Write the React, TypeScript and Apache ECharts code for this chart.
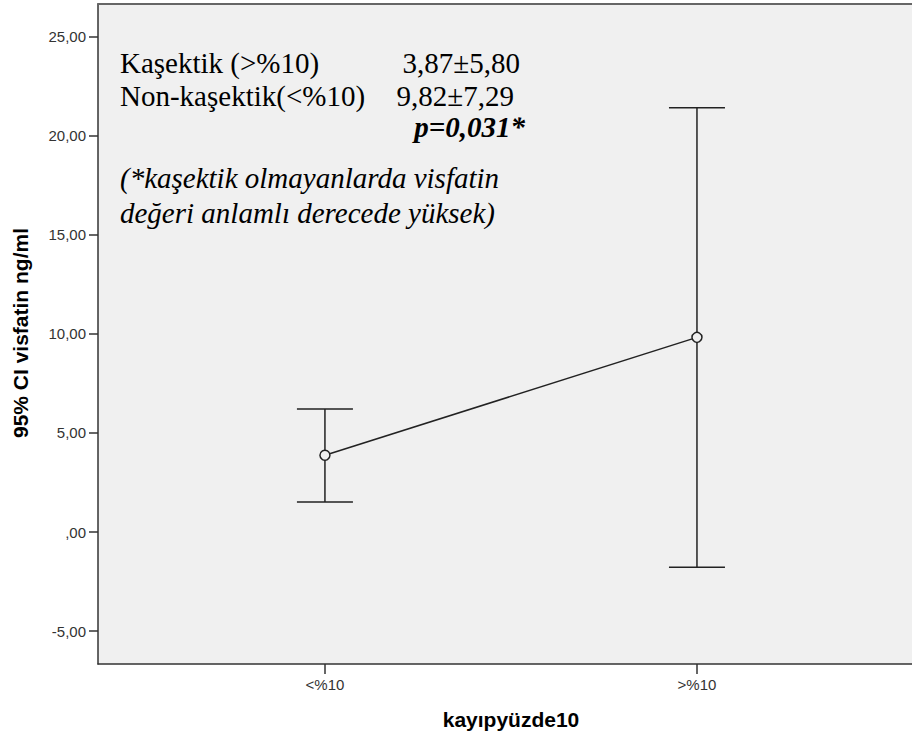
import React, { useEffect, useRef } from "react";
import * as echarts from "echarts";

const categories = ["<%10", ">%10"];
const means = [3.87, 9.82];
const ciLow = [1.51, -1.78];
const ciHigh = [6.21, 21.41];
const yTicks = [-5, 0, 5, 10, 15, 20, 25];

const statLines = [
  { label: "Kaşektik (>%10)", value: "3,87±5,80" },
  { label: "Non-kaşektik(<%10)", value: "9,82±7,29" },
];
const pText = "p=0,031*";
const noteLines = ["(*kaşektik olmayanlarda visfatin", "değeri anlamlı derecede yüksek)"];
const yTitle = "95% CI visfatin ng/ml";
const xTitle = "kayıpyüzde10";

function fmt(v: number) {
  if (v === 0) return ",00";
  return v.toFixed(2).replace(".", ",");
}

export default function App() {
  const ref = useRef<HTMLDivElement>(null);
  useEffect(() => {
    if (!ref.current) return;
    const chart = echarts.init(ref.current, null, { renderer: "svg" });
    const serif = "Liberation Serif";
    const sans = "Liberation Sans";
    const fs = 29;
    const graphic: any[] = [];
    const rowY = [63, 96];
    const txt = (x: number, y: number, text: string, align: string, extra: any = {}) => ({
      type: "text", x, y,
      style: {
        text, fontFamily: serif, fontSize: fs, fill: "#000",
        textAlign: align, textVerticalAlign: "middle", ...extra,
      },
    });
    statLines.forEach((s, i) => {
      graphic.push(txt(120, rowY[i], s.label, "left"));
      graphic.push(txt(i === 0 ? 520 : 514, rowY[i], s.value, "right"));
    });
    graphic.push(txt(525, 127, pText, "right", { fontStyle: "italic", fontWeight: "bold" }));
    noteLines.forEach((t, i) => {
      graphic.push(txt(120, 178 + i * 35, t, "left", { fontStyle: "italic" }));
    });
    graphic.push({
      type: "text", x: 511, y: 719,
      style: { text: xTitle, fontFamily: sans, fontSize: 21, fontWeight: "bold", fill: "#000", textAlign: "center", textVerticalAlign: "middle" },
    });
    graphic.push({
      type: "text", x: 20, y: 333, rotation: Math.PI / 2,
      style: { text: yTitle, fontFamily: sans, fontSize: 21, fontWeight: "bold", fill: "#000", textAlign: "center", textVerticalAlign: "middle" },
    });

    const xMin = -0.61, xMax = 1.578;
    chart.setOption({
      animation: false,
      backgroundColor: "#ffffff",
      grid: {
        left: 98, top: 4, bottom: 72, right: 0,
        show: true, backgroundColor: "#f0f0f0", borderWidth: 0,
      },
      xAxis: [
        {
          type: "value", min: xMin, max: xMax,
          splitLine: { show: false },
          axisLine: { show: true, onZero: false, lineStyle: { color: "#333", width: 1.5 } },
          axisTick: { show: true, customValues: [0, 1], length: 10, lineStyle: { color: "#333", width: 1.5 } },
          axisLabel: {
            customValues: [0, 1], formatter: (v: number) => categories[Math.round(v)] ?? "",
            color: "#333", fontSize: 15, fontFamily: sans, margin: 13,
          },
        },
        {
          type: "value", min: xMin, max: xMax, position: "top",
          splitLine: { show: false },
          axisLine: { show: true, onZero: false, lineStyle: { color: "#666", width: 2 } },
          axisTick: { show: false },
          axisLabel: { show: false },
        },
      ],
      yAxis: {
        type: "value", min: -6.66, max: 26.64,
        splitLine: { show: false },
        axisLine: { show: true, onZero: false, lineStyle: { color: "#333", width: 1.5 } },
        axisTick: { show: true, customValues: yTicks, length: 9, lineStyle: { color: "#333", width: 1.5 } },
        axisLabel: {
          customValues: yTicks, formatter: (v: number) => fmt(v),
          color: "#333", fontSize: 15, fontFamily: sans, margin: 12,
        },
      },
      graphic,
      series: [
        {
          type: "custom",
          data: categories.map((_, i) => [i, ciLow[i], ciHigh[i]]),
          renderItem: (params: any, api: any) => {
            const x = api.value(0);
            const lo = api.coord([x, api.value(1)]);
            const hi = api.coord([x, api.value(2)]);
            const hw = 28;
            const style = { stroke: "#222", lineWidth: 1.5 };
            return {
              type: "group",
              children: [
                { type: "line", shape: { x1: lo[0], y1: lo[1], x2: hi[0], y2: hi[1] }, style },
                { type: "line", shape: { x1: hi[0] - hw, y1: hi[1], x2: hi[0] + hw, y2: hi[1] }, style },
                { type: "line", shape: { x1: lo[0] - hw, y1: lo[1], x2: lo[0] + hw, y2: lo[1] }, style },
              ],
            };
          },
          z: 2,
        },
        {
          type: "line",
          data: categories.map((_, i) => [i, means[i]]),
          symbol: "circle", symbolSize: 10, showSymbol: true,
          lineStyle: { color: "#222", width: 1.5 },
          itemStyle: { color: "#f0f0f0", borderColor: "#222", borderWidth: 1.5 },
          z: 3,
        },
      ],
    });
    return () => chart.dispose();
  }, []);
  return (
    <div
      ref={ref}
      style={{ position: "fixed", left: 0, top: 0, width: 912, height: 736 }}
    />
  );
}
